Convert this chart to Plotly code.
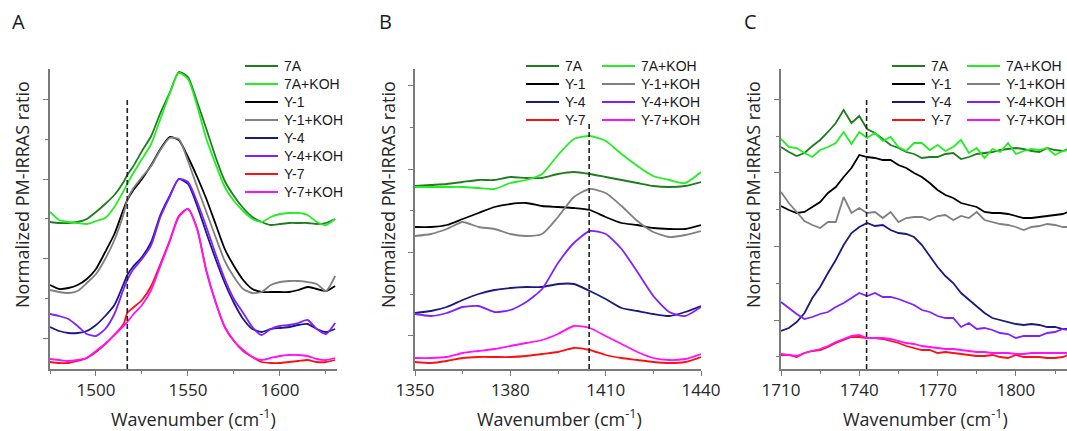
import plotly.graph_objects as go

# ---------------------------------------------------------------
# Panel A : amide II region
wn_a = [1475, 1480, 1485, 1490, 1495, 1500, 1505, 1510, 1515, 1517, 1520, 1525,
        1530, 1535, 1540, 1545, 1550, 1555, 1560, 1565, 1570, 1575, 1580, 1585,
        1590, 1595, 1600, 1605, 1610, 1615, 1620, 1625, 1630]
a_7a = [147, 146, 146, 147, 150, 157, 165, 174, 187, 194, 202, 218, 233, 256, 276, 297, 292, 267,
        240, 212, 188, 173, 161, 152, 147, 144, 145, 146, 146, 146, 145, 146, 150]
a_7a_koh = [157, 149, 147, 146, 145, 148, 151, 162, 178, 185, 195, 210, 225, 250, 275, 296, 290, 263,
            230, 205, 182, 168, 158, 150, 147, 152, 155, 156, 156, 154, 147, 144, 150]
a_y1 = [84, 80, 81, 84, 90, 100, 117, 135, 160, 169, 178, 190, 204, 220, 232, 229, 212, 192,
        170, 145, 120, 103, 89, 80, 77, 77, 77, 77, 79, 82, 80, 78, 83]
a_y1_koh = [79, 77, 76, 78, 86, 95, 110, 129, 155, 169, 180, 192, 203, 219, 231, 230, 208, 182,
            157, 132, 108, 92, 80, 76, 77, 84, 87, 88, 88, 87, 85, 78, 93]
a_y4 = [42, 38, 36, 36, 38, 44, 53, 64, 85, 94, 102, 112, 127, 154, 173, 190, 185, 163,
        136, 110, 86, 66, 50, 40, 37, 40, 41, 42, 44, 45, 40, 37, 40]
a_y4_koh = [55, 53, 50, 43, 35, 33, 40, 55, 80, 89, 99, 110, 124, 152, 172, 190, 187, 167,
            142, 115, 90, 70, 56, 42, 34, 40, 43, 44, 46, 49, 40, 35, 46]
a_y7 = [7, 6, 6, 8, 11, 17, 25, 34, 45, 56, 61, 69, 83, 105, 128, 153, 160, 140,
        98, 67, 42, 28, 18, 12, 7, 6, 6, 7, 8, 9, 7, 7, 9]
a_y7_koh = [10, 9, 8, 9, 11, 18, 25, 34, 43, 47, 54, 64, 79, 103, 127, 152, 160, 140,
            98, 67, 42, 28, 19, 12, 9, 11, 13, 14, 14, 13, 10, 9, 11]

# Panel B : 1350-1440
wn_b = [1350, 1355, 1360, 1365, 1370, 1375, 1380, 1385, 1390, 1395,
        1400, 1405, 1410, 1415, 1420, 1425, 1430, 1435, 1440]
b_7a = [183, 184, 185, 187, 189, 189, 192, 191, 191, 195, 197, 195, 192, 189, 186, 183, 182, 183, 187]
b_7a_koh = [182, 182, 182, 182, 181, 180, 186, 189, 195, 214, 230, 233, 228, 215, 203, 193, 189, 186, 197]
b_y1 = [142, 142, 144, 150, 156, 162, 165, 166, 163, 162, 161, 159, 152, 146, 144, 141, 140, 140, 144]
b_y1_koh = [133, 135, 140, 147, 142, 140, 135, 133, 135, 152, 172, 180, 176, 163, 148, 137, 132, 134, 138]
b_y4 = [56, 58, 62, 69, 75, 79, 81, 82, 82, 85, 85, 78, 70, 61, 58, 55, 53, 57, 63]
b_y4_koh = [55, 53, 56, 62, 63, 57, 59, 67, 80, 106, 126, 138, 135, 120, 97, 73, 57, 53, 62]
b_y7 = [7, 6, 8, 11, 12, 12, 12, 13, 15, 17, 21, 19, 14, 11, 9, 7, 6, 7, 12]
b_y7_koh = [11, 11, 12, 16, 18, 20, 23, 26, 29, 35, 43, 41, 33, 25, 17, 11, 9, 10, 15]

# Panel C : carbonyl region
wn_c = [1710, 1713, 1716, 1719, 1722, 1725, 1728, 1731, 1734, 1737, 1740, 1743, 1746,
        1749, 1752, 1755, 1758, 1761, 1764, 1767, 1770, 1773, 1776, 1779, 1782, 1785,
        1788, 1791, 1794, 1797, 1800, 1803, 1806, 1809, 1812, 1815, 1818, 1820]
c_7a = [222, 217, 213, 216, 223, 229, 237, 246, 259, 246, 253, 240, 236, 230, 224, 221, 217, 215, 211,
        212, 212, 215, 216, 210, 212, 215, 216, 217, 219, 220, 221, 220, 218, 217, 221, 219, 218, 220]
c_7a_koh = [230, 222, 221, 216, 212, 219, 222, 226, 237, 225, 237, 231, 236, 228, 232, 222, 218, 226, 226,
            219, 224, 218, 222, 229, 216, 221, 211, 220, 217, 226, 215, 218, 220, 219, 221, 214, 218, 219]
c_y1 = [163, 159, 156, 157, 162, 167, 176, 182, 192, 201, 214, 212, 211, 209, 209, 204, 201, 196, 192,
        186, 179, 174, 171, 166, 164, 162, 157, 156, 156, 155, 153, 151, 151, 152, 153, 154, 155, 157]
c_y1_koh = [177, 166, 157, 148, 144, 141, 147, 147, 172, 156, 161, 156, 157, 151, 157, 147, 151, 152, 152,
            149, 153, 154, 149, 153, 151, 157, 149, 147, 145, 144, 142, 139, 142, 143, 145, 144, 142, 142]
c_y4 = [38, 41, 47, 56, 71, 82, 96, 109, 124, 136, 142, 146, 143, 144, 139, 136, 135, 132, 124,
        113, 102, 93, 86, 76, 69, 63, 56, 51, 49, 47, 45, 44, 45, 44, 42, 42, 40, 40]
c_y4_koh = [67, 61, 55, 50, 52, 55, 57, 62, 66, 71, 76, 73, 76, 72, 72, 70, 67, 64, 59,
            57, 53, 51, 51, 42, 46, 40, 41, 39, 36, 35, 31, 33, 33, 33, 36, 37, 40, 39]
c_y7 = [14, 14, 12, 16, 18, 19, 22, 26, 29, 32, 32, 31, 31, 30, 28, 26, 23, 21, 19,
        19, 16, 17, 16, 15, 14, 13, 13, 14, 12, 11, 14, 12, 12, 12, 11, 11, 12, 14]
c_y7_koh = [15, 14, 13, 16, 18, 20, 23, 27, 30, 33, 34, 31, 31, 31, 30, 28, 26, 25, 23,
            22, 21, 20, 20, 19, 18, 17, 17, 16, 16, 16, 15, 15, 16, 16, 16, 16, 16, 16]

names = ["7A", "7A+KOH", "Y-1", "Y-1+KOH", "Y-4", "Y-4+KOH", "Y-7", "Y-7+KOH"]
colors = ["#1e7d1e", "#22ee22", "#000000", "#808080", "#1a1a80", "#8020ff", "#ff1010", "#ff10ff"]

# dashed marker lines (x position, top of line)
dash_x = [1517, 1404.8, 1742.8]
dash_top = [271, 245, 271]

W, H = 1067, 431

def px(v):
    return v / W

def py(v):
    return 1 - v / H

panels = [
    dict(wn=wn_a, data=[a_7a, a_7a_koh, a_y1, a_y1_koh, a_y4, a_y4_koh, a_y7, a_y7_koh],
         dom=(50, 337), rng=[1475, 1631], dt=50, t0=1500, mdt=25,
         yt0=31, ydt=79.5, shape="spline", letter="A", lx=18, title_x=193, ytitle_x=22),
    dict(wn=wn_b, data=[b_7a, b_7a_koh, b_y1, b_y1_koh, b_y4, b_y4_koh, b_y7, b_y7_koh],
         dom=(415, 701), rng=[1350, 1440], dt=30, t0=1350, mdt=15,
         yt0=33.3, ydt=83.3, shape="spline", letter="B", lx=385, title_x=559, ytitle_x=388),
    dict(wn=wn_c, data=[c_7a, c_7a_koh, c_y1, c_y1_koh, c_y4, c_y4_koh, c_y7, c_y7_koh],
         dom=(781, 1067), rng=[1710, 1819.6], dt=30, t0=1710, mdt=15,
         yt0=49, ydt=73.6, shape="linear", letter="C", lx=750, title_x=925, ytitle_x=753),
]

# hand placed legends: (line start, text start) for each column, rows 18 px apart
legend_cols = [
    [(245, 282)],
    [(526, 563), (602, 639)],
    [(892, 929), (967, 1004)],
]
legend_top = 66
row_gap = 18

fig = go.Figure()
annotations = []
shapes = []
layout = {}

for i, p in enumerate(panels):
    sfx = "" if i == 0 else str(i + 1)
    xa, ya = "x" + sfx, "y" + sfx
    for k in range(8):
        fig.add_trace(go.Scatter(
            x=p["wn"], y=p["data"][k], mode="lines", name=names[k], showlegend=False,
            line=dict(color=colors[k], width=1.8, shape=p["shape"], smoothing=0.6),
            xaxis=xa, yaxis=ya))
    fig.add_trace(go.Scatter(
        x=[dash_x[i], dash_x[i]], y=[0, dash_top[i]], mode="lines", showlegend=False,
        line=dict(color="#222222", width=1.6, dash="5px,3px"), xaxis=xa, yaxis=ya))

    axis_common = dict(showline=True, linecolor="#7a7a7a", linewidth=1.5, ticks="outside",
                       tickcolor="#7a7a7a", tickwidth=1.2, showgrid=False, zeroline=False)
    layout["xaxis" + sfx] = dict(
        axis_common, domain=[px(p["dom"][0]), px(p["dom"][1])], range=p["rng"],
        anchor=ya, tick0=p["t0"], dtick=p["dt"], ticklen=5,
        tickfont=dict(family="Open Sans", size=17, color="#262626"),
        minor=dict(dtick=p["mdt"], tick0=p["t0"], ticks="outside", ticklen=3,
                   tickcolor="#7a7a7a"))
    layout["yaxis" + sfx] = dict(
        axis_common, domain=[py(369), py(69)], range=[0, 300], anchor=xa,
        showticklabels=False, tick0=p["yt0"], dtick=p["ydt"], ticklen=5,
        minor=dict(dtick=p["ydt"] / 2, tick0=p["yt0"], ticks="outside", ticklen=3,
                   tickcolor="#7a7a7a"))

    annotations.append(dict(text=p["letter"], x=px(p["lx"]), y=py(22), xref="paper", yref="paper",
                            xanchor="center", yanchor="middle", showarrow=False,
                            font=dict(family="Open Sans", size=20, color="#1a1a1a")))
    annotations.append(dict(text="Wavenumber (cm<sup>-1</sup>)", x=px(p["title_x"]), y=py(418),
                            xref="paper", yref="paper", xanchor="center", yanchor="middle",
                            showarrow=False, font=dict(family="Open Sans", size=18, color="#262626")))
    annotations.append(dict(text="Normalized PM-IRRAS ratio", x=px(p["ytitle_x"]), y=py(195),
                            xref="paper", yref="paper", xanchor="center", yanchor="middle",
                            showarrow=False, textangle=-90,
                            font=dict(family="Open Sans", size=18, color="#262626")))

    # legend entries
    cols = legend_cols[i]
    for k in range(8):
        c = k % len(cols)
        r = k // len(cols)
        x0, tx = cols[c]
        yy = legend_top + r * row_gap
        shapes.append(dict(type="line", xref="paper", yref="paper",
                           x0=px(x0), x1=px(tx - 4), y0=py(yy), y1=py(yy),
                           line=dict(color=colors[k], width=2)))
        annotations.append(dict(text=names[k], x=px(tx), y=py(yy), xref="paper", yref="paper",
                                xanchor="left", yanchor="middle", showarrow=False,
                                font=dict(family="Liberation Sans, Arial", size=14, color="#1a1a1a")))

fig.update_layout(
    width=W, height=H,
    margin=dict(l=0, r=0, t=0, b=0, autoexpand=False),
    paper_bgcolor="white", plot_bgcolor="white",
    showlegend=False,
    annotations=annotations,
    shapes=shapes,
    **layout,
)

fig.write_html("out.html", config={"displayModeBar": False},
               post_script="document.body.style.margin = '0px';")
